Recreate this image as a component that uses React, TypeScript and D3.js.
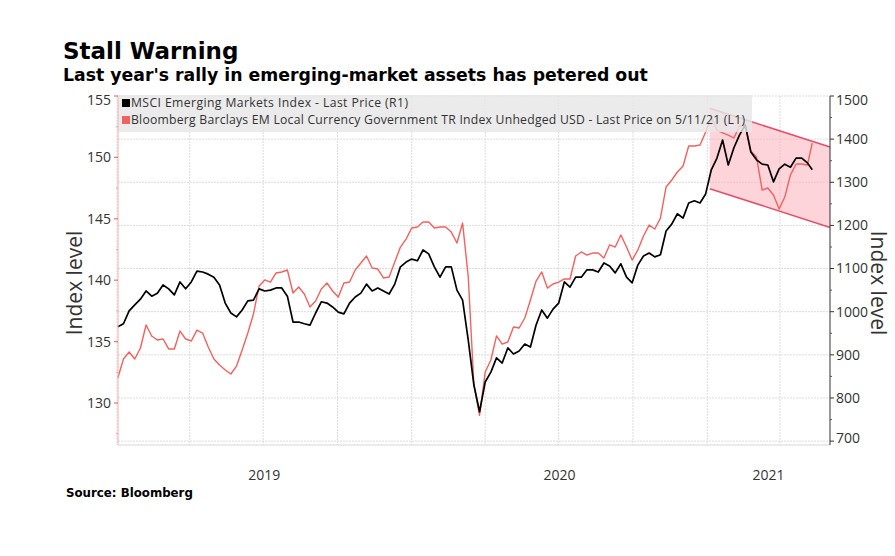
import React from "react";
import * as d3 from "d3";

const titleText = "Stall Warning";
const subtitleText = "Last year's rally in emerging-market assets has petered out";
const sourceText = "Source: Bloomberg";
const legendLabels = [
  "MSCI Emerging Markets Index - Last Price (R1)",
  "Bloomberg Barclays EM Local Currency Government TR Index Unhedged USD - Last Price on 5/11/21 (L1)",
];
const axisTitle = "Index level";
const yearLabels = ["2019", "2020", "2021"];
const leftTicks = [130, 135, 140, 145, 150, 155];
const rightTicks = [700, 800, 900, 1000, 1100, 1200, 1300, 1400, 1500];

// weekly observations starting on this date, the last one on lastDate
const firstWeek = "2019-01-02";
const lastDate = "2021-05-11";

// MSCI Emerging Markets Index (right axis)
const msciValues = [
  965, 972, 1002, 1016, 1029, 1048, 1036, 1043, 1062, 1053,
  1039, 1069, 1053, 1069, 1094, 1092, 1087, 1080, 1062, 1020,
  997, 988, 1004, 1025, 1027, 1053, 1048, 1050, 1055, 1055,
  1036, 976, 976, 972, 969, 997, 1023, 1020, 1011, 999,
  995, 1020, 1034, 1043, 1064, 1048, 1055, 1048, 1041, 1064,
  1104, 1115, 1122, 1118, 1143, 1134, 1104, 1080, 1104, 1104,
  1050, 1027, 934, 830, 768, 837, 860, 893, 881, 916,
  902, 909, 925, 918, 969, 1004, 985, 1006, 1020, 1069,
  1057, 1080, 1080, 1097, 1097, 1092, 1113, 1106, 1090, 1111,
  1080, 1067, 1108, 1129, 1136, 1127, 1132, 1187, 1203, 1227,
  1217, 1252, 1257, 1252, 1273, 1329, 1356, 1398, 1340, 1380,
  1410, 1433, 1370, 1352, 1342, 1340, 1301, 1331, 1342, 1335,
  1356, 1356, 1345, 1329,
];

// Bloomberg Barclays EM Local Currency Govt TR Index Unhedged USD (left axis)
const emLocalValues = [
  132.04, 133.58, 134.15, 133.58, 134.48, 136.35, 135.46, 135.13, 135.21, 134.4,
  134.4, 135.86, 135.21, 135.05, 135.94, 135.7, 134.56, 133.58, 133.09, 132.69,
  132.36, 133.01, 134.32, 135.7, 137.25, 139.53, 140.02, 139.85, 140.59, 140.67,
  140.83, 138.96, 139.45, 138.88, 137.82, 138.31, 139.28, 139.77, 139.12, 138.63,
  139.77, 139.85, 140.83, 141.4, 141.97, 140.99, 140.91, 140.18, 140.26, 141.48,
  142.7, 143.35, 144.25, 144.33, 144.74, 144.74, 144.25, 144.33, 144.33, 143.92,
  143.03, 144.66, 140.26, 131.47, 129.0, 132.52, 133.5, 135.46, 134.8, 134.97,
  136.19, 136.11, 136.92, 138.39, 139.93, 140.67, 139.36, 139.69, 139.85, 140.1,
  140.1, 141.97, 142.3, 142.05, 142.21, 142.21, 141.81, 142.87, 142.7, 143.68,
  142.7, 141.64, 142.46, 143.6, 144.49, 144.17, 145.06, 147.59, 148.16, 148.81,
  149.3, 150.93, 150.93, 151.01, 152.07, 153.21, 152.23, 151.99, 151.82, 151.58,
  152.56, 152.64, 150.52, 150.03, 147.34, 147.51, 146.94, 145.8, 146.77, 148.57,
  149.46, 149.46, 149.38, 151.17,
];

// downward channel drawn on the left axis
const channelDates = ["2021-01-04", "2021-06-02"];
const channelUpper = [154.0, 150.85];
const channelLower = [147.45, 144.3];

const xDomain = ["2019-01-01", "2021-06-02"];
const leftDomain = [126.58, 155];
const rightDomain = [691, 1500];

const parse = d3.timeParse("%Y-%m-%d");

export default function App() {
  const W = 895;
  const H = 556;
  const plotL = 118;
  const plotR = 830;
  const plotT = 96;
  const plotB = 445;

  const x = d3.scaleTime().domain(xDomain.map((d) => parse(d) as Date)).range([117, plotR]);
  const yL = d3.scaleLinear().domain(leftDomain).range([plotB, plotT]);
  const yR = d3.scaleLinear().domain(rightDomain).range([plotB, plotT]);

  const start = parse(firstWeek) as Date;
  const n = msciValues.length;
  const dates = d3.range(n).map((i) =>
    i === n - 1 ? (parse(lastDate) as Date) : d3.timeDay.offset(start, 7 * i)
  );

  const msciLine = d3
    .line<number>()
    .x((_, i) => x(dates[i]))
    .y((v) => yR(v))(msciValues) as string;
  const emLine = d3
    .line<number>()
    .x((_, i) => x(dates[i]))
    .y((v) => yL(v))(emLocalValues) as string;

  const cD = channelDates.map((d) => parse(d) as Date);
  const chPoly = [
    [x(cD[0]), yL(channelUpper[0])],
    [x(cD[1]), yL(channelUpper[1])],
    [x(cD[1]), yL(channelLower[1])],
    [x(cD[0]), yL(channelLower[0])],
  ];
  const polyStr = chPoly.map((p) => p.join(",")).join(" ");

  const quarters = d3.timeMonth.every(3)!.range(parse("2019-01-01") as Date, parse("2021-06-01") as Date);
  const yearStarts = yearLabels.map((y) => parse(`${y}-01-01`) as Date);
  const xEnd = parse(xDomain[1]) as Date;
  const yearCenters = yearStarts.map((d, i) => {
    const a = x(d);
    const b = i < yearStarts.length - 1 ? x(yearStarts[i + 1]) : x(xEnd);
    return (a + b) / 2;
  });

  const leftMinor = d3.range(127.5, 155, 5);
  const rightMinor = d3.range(750, 1500, 100);

  const tickFont = "'Open Sans', 'DejaVu Sans', sans-serif";
  const titleFont = "'DejaVu Sans', Verdana, sans-serif";

  return (
    <svg
      width={W}
      height={H}
      style={{ position: "absolute", left: 0, top: 0, background: "#fff", display: "block" }}
    >
      <rect x={0} y={0} width={W} height={H} fill="#fff" />
      {/* titles */}
      <text x={63} y={59} fontFamily={titleFont} fontWeight="bold" fontSize={23} fill="#000">
        {titleText}
      </text>
      <text x={63} y={81} fontFamily={titleFont} fontWeight="bold" fontSize={17.3} fill="#000">
        {subtitleText}
      </text>

      {/* grid */}
      {quarters.map((q, i) => (
        <line
          key={"vg" + i}
          x1={x(q)}
          x2={x(q)}
          y1={plotT}
          y2={plotB}
          stroke="#dcdcdc"
          strokeWidth={1}
          strokeDasharray="2,1"
        />
      ))}
      {rightTicks.map((t) => (
        <line
          key={"hg" + t}
          x1={plotL}
          x2={plotR}
          y1={yR(t)}
          y2={yR(t)}
          stroke="#dcdcdc"
          strokeWidth={1}
          strokeDasharray="2,1"
        />
      ))}
      <line x1={plotL} x2={plotR} y1={plotB} y2={plotB} stroke="#d6d6d6" strokeWidth={1} />

      {/* channel */}
      <polygon points={polyStr} fill="#f9a9b6" fillOpacity={0.5} stroke="none" />
      <line
        x1={chPoly[0][0]}
        y1={chPoly[0][1]}
        x2={chPoly[1][0]}
        y2={chPoly[1][1]}
        stroke="#e4506a"
        strokeWidth={1.6}
      />
      <line
        x1={chPoly[3][0]}
        y1={chPoly[3][1]}
        x2={chPoly[2][0]}
        y2={chPoly[2][1]}
        stroke="#e4506a"
        strokeWidth={1.6}
      />

      {/* series */}
      <path d={emLine} fill="none" stroke="#f0625f" strokeWidth={1.4} strokeLinejoin="round" />
      <path d={msciLine} fill="none" stroke="#000" strokeWidth={1.7} strokeLinejoin="round" />

      {/* legend */}
      <rect x={plotL} y={95} width={634} height={37} fill="#e6e6e6" fillOpacity={0.82} />
      <rect x={122} y={99} width={8} height={8} fill="#000" />
      <rect x={122} y={116} width={8} height={8} fill="#f0625f" />
      <text
        x={131}
        y={107}
        fontFamily={tickFont}
        fontSize={12.2}
        fill="#333"
        textLength={277}
        lengthAdjust="spacing"
      >
        {legendLabels[0]}
      </text>
      <text
        x={131}
        y={124}
        fontFamily={tickFont}
        fontSize={12.2}
        fill="#333"
        textLength={614}
        lengthAdjust="spacing"
      >
        {legendLabels[1]}
      </text>

      {/* left axis */}
      <line x1={plotL} x2={plotL} y1={plotT} y2={plotB} stroke="#f6b0b0" strokeWidth={1} />
      {leftTicks.map((t) => (
        <g key={"lt" + t}>
          <line x1={plotL - 4} x2={plotL} y1={yL(t)} y2={yL(t)} stroke="#f07070" strokeWidth={1.2} />
          <text
            x={111}
            y={Math.max(yL(t), 100)}
            dy="0.35em"
            textAnchor="end"
            fontFamily={tickFont}
            fontSize={14}
            fill="#333"
          >
            {t}
          </text>
        </g>
      ))}
      {leftMinor.map((t) => (
        <line key={"lm" + t} x1={plotL - 2} x2={plotL} y1={yL(t)} y2={yL(t)} stroke="#f4a0a0" strokeWidth={1} />
      ))}
      <text
        transform={`translate(82,283) rotate(-90)`}
        textAnchor="middle"
        fontFamily={tickFont}
        fontSize={21}
        fill="#333"
      >
        {axisTitle}
      </text>

      {/* right axis */}
      <line x1={plotR} x2={plotR} y1={plotT} y2={plotB} stroke="#333" strokeWidth={1} />
      {rightTicks.map((t) => (
        <g key={"rt" + t}>
          <line x1={plotR} x2={plotR + 4} y1={yR(t)} y2={yR(t)} stroke="#333" strokeWidth={1} />
          <text
            x={836}
            y={Math.min(Math.max(yR(t), 100), 438)}
            dy="0.35em"
            textAnchor="start"
            fontFamily={tickFont}
            fontSize={14}
            fill="#333"
          >
            {t}
          </text>
        </g>
      ))}
      {rightMinor.map((t) => (
        <line key={"rm" + t} x1={plotR} x2={plotR + 2} y1={yR(t)} y2={yR(t)} stroke="#555" strokeWidth={1} />
      ))}
      <text
        transform={`translate(871,283) rotate(90)`}
        textAnchor="middle"
        fontFamily={tickFont}
        fontSize={21}
        fill="#333"
      >
        {axisTitle}
      </text>

      {/* x labels */}
      {yearLabels.map((y, i) => (
        <text
          key={"yl" + y}
          x={yearCenters[i]}
          y={480}
          textAnchor="middle"
          fontFamily={tickFont}
          fontSize={14}
          fill="#333"
        >
          {y}
        </text>
      ))}

      <text x={66} y={497} fontFamily={titleFont} fontWeight="bold" fontSize={11.8} fill="#000">
        {sourceText}
      </text>
    </svg>
  );
}
